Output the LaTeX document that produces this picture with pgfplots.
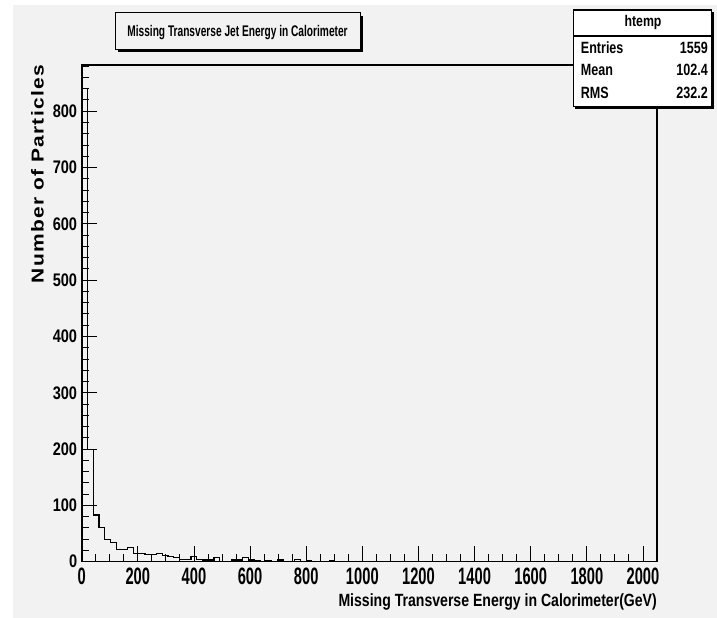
\documentclass[border=0pt]{standalone}
\usepackage{fontspec}
\setmainfont{Liberation Sans}
\newfontfamily\ylabfont{Liberation Sans}[LetterSpace=6]
\usepackage{graphicx}
\usepackage{pgfplots}
\pgfplotsset{compat=1.18}
\definecolor{bg}{RGB}{242,242,242}
\begin{document}
\begin{tikzpicture}[x=1pt,y=1pt]
\useasboundingbox (0,0) rectangle (717,618);
\fill[white] (0,0) rectangle (717,618);
\fill[bg] (13,0) rectangle (717,613);
% title box
\fill[black] (118,566) rectangle (363,602.3);
\filldraw[fill=bg, draw=black, line width=0.8pt] (115,569) rectangle (360,605.3);
\node[anchor=base, inner sep=0pt] at (237.5,581.3) {\fontsize{15.4}{16}\selectfont\bfseries\scalebox{0.66}[1]{Missing Transverse Jet Energy in Calorimeter}};
\begin{axis}[
  at={(81.7pt,56.3pt)}, anchor=south west, scale only axis,
  width=575.3pt, height=496.7pt,
  xmin=0, xmax=2050, ymin=0, ymax=882,
  axis background/.style={fill=bg},
  axis line style={line width=1.6pt},
  tick pos=left, tick align=inside,
  xtick={0,200,...,2000}, ytick={0,100,...,800},
  minor xtick={0,50,...,2050}, minor ytick={0,20,...,880},
  major tick length=15.5pt, minor tick length=7.5pt,
  every tick/.style={black, line width=0.9pt},
  /pgf/number format/assume math mode=true,
  /pgf/number format/1000 sep={},
  xticklabel={\scalebox{0.62}[1]{\pgfmathprintnumber{\tick}}},
  xticklabel style={font=\fontsize{23.7}{24}\selectfont\bfseries, anchor=north, inner sep=0pt, yshift=-6pt},
  yticklabel={\scalebox{0.8}[1]{\pgfmathprintnumber{\tick}}},
  yticklabel style={font=\fontsize{18.2}{19}\selectfont\bfseries, anchor=east, inner sep=0pt, xshift=-4.4pt},
  clip=false,
]
\addplot[const plot, black, line width=1.1pt, mark=none] coordinates {
(0,0)(0,840)(20.5,200)(41,83)(61.5,61)(82,40)(102.5,34)(123,21)(143.5,21)(164,25)(184.5,15)
(205,14)(225.5,12)(246,12)(266.5,15)(287,11)(307.5,9)(328,8)(348.5,4)(369,4)(389.5,9)
(410,4)(430.5,3)(451,3)(471.5,7)(492,1)(512.5,1)(533,3)(553.5,3)(574,7)(594.5,3)
(615,2)(635.5,1)(656,2)(676.5,1)(697,3)(717.5,1)(738,1)(758.5,4)(779,1)(799.5,2)
(820,1)(840.5,1)(861,0)(881.5,2)(902,1)(922.5,1)(943,0)(963.5,1)(984,1)(1004.5,0)
(1025,1)(1045.5,0)(1066,1)(1086.5,1)(1107,0)(1127.5,1)(1148,0)(1168.5,1)(1189,0)(1209.5,1)
(1230,0)(1250.5,1)(1271,1)(1291.5,0)(1312,0)(1332.5,1)(1353,0)(1373.5,1)(1394,0)(1414.5,0)
(1435,1)(1455.5,0)(1476,0)(1496.5,1)(1517,0)(1537.5,1)(1558,0)(1578.5,0)(1599,1)(1619.5,0)
(1640,0)(1660.5,1)(1681,0)(1701.5,0)(1722,1)(1742.5,0)(1763,0)(1783.5,0)(1804,1)(1824.5,0)
(1845,0)(1865.5,1)(1886,0)(1906.5,0)(1927,0)(1947.5,1)(1968,0)(1988.5,0)(2009,1)(2029.5,1)
(2050,1)};
\end{axis}
% x label
\node[anchor=base east, inner sep=0pt] at (657,12) {\fontsize{17.7}{18}\selectfont\bfseries\scalebox{0.795}[1]{Missing Transverse Energy in Calorimeter(GeV)}};
% y label
\node[anchor=base east, inner sep=0pt, rotate=90] at (43.7,553) {\resizebox{218pt}{12.5pt}{\ylabfont\fontsize{16.8}{17}\selectfont\bfseries Number of Particles}};
% stats box
\fill[black] (575.3,509.3) rectangle (713.7,606);
\filldraw[fill=white, draw=black, line width=1.2pt] (573.3,511.3) rectangle (711.7,608);
\draw[line width=1.2pt] (573.3,582) -- (711.7,582);
\begin{scope}[every node/.style={inner sep=0pt}]
\node[anchor=base] at (643,591.3) {\fontsize{15.4}{16}\selectfont\bfseries\scalebox{0.8}[1]{htemp}};
\node[anchor=base west] at (580.7,564.7) {\fontsize{16.3}{17}\selectfont\bfseries\scalebox{0.77}[1]{Entries}};
\node[anchor=base east] at (708,564.7) {\fontsize{16.3}{17}\selectfont\bfseries\scalebox{0.77}[1]{1559}};
\node[anchor=base west] at (580.7,542) {\fontsize{16.3}{17}\selectfont\bfseries\scalebox{0.77}[1]{Mean}};
\node[anchor=base east] at (708,542) {\fontsize{16.3}{17}\selectfont\bfseries\scalebox{0.77}[1]{102.4}};
\node[anchor=base west] at (580.7,519.7) {\fontsize{16.3}{17}\selectfont\bfseries\scalebox{0.77}[1]{RMS}};
\node[anchor=base east] at (708,519.7) {\fontsize{16.3}{17}\selectfont\bfseries\scalebox{0.77}[1]{232.2}};
\end{scope}
\end{tikzpicture}
\end{document}
